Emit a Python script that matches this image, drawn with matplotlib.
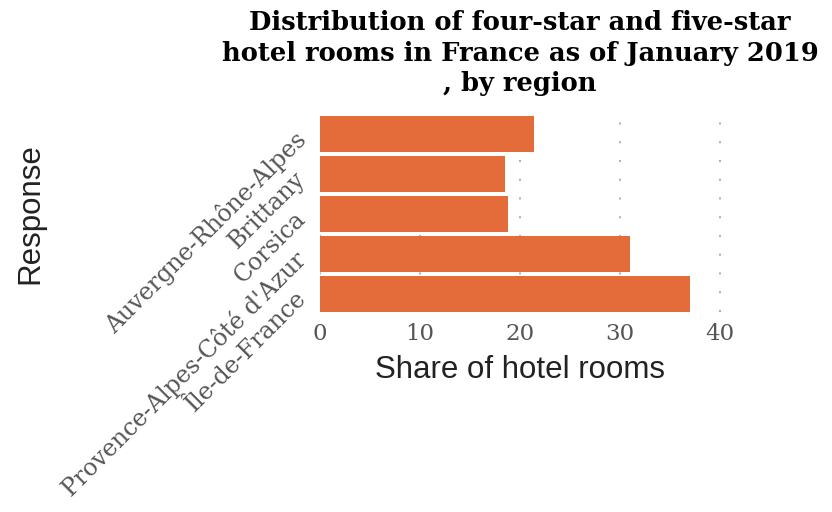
import matplotlib
matplotlib.use('Agg')
import matplotlib.pyplot as plt

# data
regions = [
    'Auvergne-Rhône-Alpes',
    'Brittany',
    'Corsica',
    "Provence-Alpes-Côté d'Azur",
    'Île-de-France',
]
share = [21.4, 18.5, 18.8, 31.0, 37.0]
x_ticks = [0, 10, 20, 30, 40]

bar_color = '#E46C3A'
tick_color = '#555555'

fig = plt.figure(figsize=(8.32, 5.12), dpi=100)
ax = fig.add_axes([320 / 832, 1 - 312 / 512, 410 / 832, 196 / 512])

ypos = list(range(len(regions)))
ax.barh(ypos, share, height=0.9, color=bar_color, zorder=2)

ax.set_ylim(len(regions) - 0.55, -0.45)
ax.set_xlim(0, 41)
ax.set_xticks(x_ticks)
ax.set_xticklabels([str(t) for t in x_ticks], family='DejaVu Serif',
                   fontsize=16.5, color=tick_color)
ax.set_yticks(ypos)
ax.set_yticklabels(regions, family='DejaVu Serif', fontsize=17,
                   color=tick_color, rotation=45, ha='right',
                   rotation_mode='anchor')
ax.tick_params(axis='x', length=0, pad=8)
ax.tick_params(axis='y', length=0, pad=14)

ax.grid(axis='x', linestyle=(0, (1, 8)), color='#b4b4b4', linewidth=1.5,
        zorder=0)
ax.grid(axis='y', visible=False)
for s in ax.spines.values():
    s.set_visible(False)

fig.text(520 / 832, 1 - 370 / 512, 'Share of hotel rooms',
         family='Liberation Sans', fontsize=22.5, color='#222222',
         ha='center', va='center')
fig.text(30 / 832, 1 - 214 / 512, 'Response', family='Liberation Sans',
         fontsize=22.5, color='#222222', rotation=90, ha='center',
         va='center')

fig.text(520 / 832, 1 - 53 / 512,
         'Distribution of four-star and five-star\n'
         'hotel rooms in France as of January 2019\n'
         ', by region',
         family='DejaVu Serif', fontweight='bold', fontsize=18.5,
         linespacing=1.27, ha='center', va='center', multialignment='center')

fig.savefig('out.png', dpi=100)
